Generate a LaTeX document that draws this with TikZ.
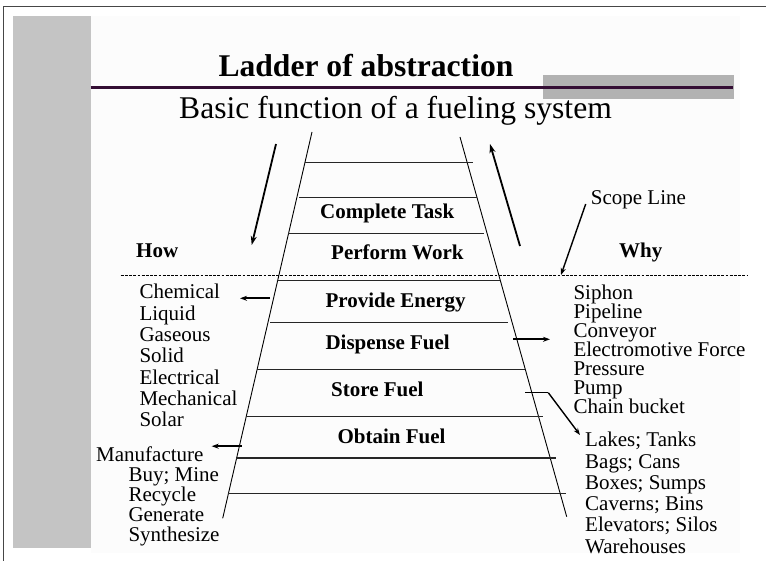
\documentclass[tikz,border=0pt]{standalone}
\usepackage{fontspec}
\setmainfont{Liberation Serif}
\usetikzlibrary{arrows.meta}

\definecolor{sidebar}{RGB}{196,196,196}
\definecolor{panel}{RGB}{252,252,252}
\definecolor{accent}{RGB}{178,178,178}
\definecolor{rulecol}{RGB}{52,14,52}
\definecolor{framecol}{RGB}{70,70,70}

\begin{document}
\begin{tikzpicture}[x=1pt,y=-1pt,
  listtext/.style={inner sep=0pt, anchor=base west, font=\fontsize{21}{25}\selectfont},
  steptext/.style={inner sep=0pt, anchor=base west, font=\fontsize{21}{25}\selectfont\bfseries},
  titletext/.style={inner sep=0pt, anchor=base west, font=\fontsize{31.6}{36}\selectfont\bfseries},
  subtext/.style={inner sep=0pt, anchor=base west, font=\fontsize{31.6}{36}\selectfont},
  rail/.style={line width=0.9pt},
  rung/.style={line width=1.2pt, black!85},
  bigarrow/.style={line width=1.8pt, -{Stealth[length=9pt,width=6pt]}},
  smallarrow/.style={line width=1.6pt, -{Stealth[length=7pt,width=5pt]}},
]
\useasboundingbox (0,0) rectangle (766,561);

% slide background, side bar and frame
\fill[panel] (90.7,15.7) rectangle (740,553);
\fill[sidebar] (12.7,15.7) rectangle (90.7,548.3);
\draw[framecol, line width=1.3pt] (3.5,561) -- (3.5,6.5) -- (766,6.5);

% title block
\fill[accent] (542.7,75) rectangle (734,99);
\draw[rulecol, line width=3.3pt] (90.7,87.3) -- (733.3,87.3);
\node[titletext] (title) at (218.3,76.7) {Ladder of abstraction};
\node[subtext] (subtitle) at (179,118.3) {Basic function of a fueling system};

% ladder rails
\coordinate (railLtop) at (312,132);
\coordinate (railLbot) at (222.7,518.3);
\coordinate (railRtop) at (460,137);
\coordinate (railRbot) at (566.7,516.7);
\draw[rail] (railLtop) -- (railLbot);
\draw[rail] (railRtop) -- (railRbot);

% ladder rungs
\foreach \y/\xa/\xb in {162.3/305/472.7, 197.7/299/477.3, 233.3/288/484,
    280.7/276.7/500, 322.3/270/508.3, 369.3/257.3/525, 416.7/246/543.3,
    458/236/556, 493.3/228.3/566}
  \draw[rung] (\xa,\y) -- (\xb,\y);

% rung labels
\node[steptext] (complete) at (320,219) {Complete Task};
\node[steptext] (perform)  at (331,260) {Perform Work};
\node[steptext] (provide)  at (325.3,307.7) {Provide Energy};
\node[steptext] (dispense) at (325.3,350) {Dispense Fuel};
\node[steptext] (store)    at (331,396.7) {Store Fuel};
\node[steptext] (obtain)   at (337.3,443.3) {Obtain Fuel};

% scope line
\coordinate (scopeL) at (120.7,275);
\coordinate (scopeR) at (748.3,275);
\coordinate (scopeHit) at (561,275);
\draw[line width=0.9pt, dash pattern=on 2.8pt off 1.4pt] (scopeL) -- (scopeR);
\node[listtext] (scopelabel) at (590.7,205) {Scope Line};
\coordinate (scopeFrom) at (585.7,204);
\draw[smallarrow, line width=1.4pt] (scopeFrom) -- (scopeHit);

% how / why directions
\node[steptext] (how) at (136,258) {How};
\node[steptext] (why) at (619,258) {Why};
\coordinate (howFrom) at (276,144);
\coordinate (howTo) at (251.7,245);
\draw[bigarrow] (howFrom) -- (howTo);
\coordinate (whyFrom) at (520,246);
\coordinate (whyTo) at (490,144);
\draw[bigarrow] (whyFrom) -- (whyTo);

% energy forms
\foreach \t [count=\i] in {Chemical, Liquid, Gaseous, Solid, Electrical, Mechanical, Solar}
  \node[listtext] (energy\i) at (139.3,{299+21.3*(\i-1)}) {\t};
\coordinate (energyFrom) at (270,298.3);
\coordinate (energyTo) at (240,298.3);
\draw[smallarrow] (energyFrom) -- (energyTo);

% ways of obtaining fuel
\node[listtext] (obtain1) at (96,461) {Manufacture};
\foreach \t [count=\i] in {{Buy; Mine}, Recycle, Generate, Synthesize}
  \node[listtext] (obtainway\i) at (128.3,{481+20.2*(\i-1)}) {\t};
\coordinate (obtainFrom) at (241.7,446.2);
\coordinate (obtainTo) at (211.7,446.2);
\draw[smallarrow] (obtainFrom) -- (obtainTo);

% ways of dispensing fuel
\foreach \t [count=\i] in {Siphon, Pipeline, Conveyor, Electromotive Force, Pressure, Pump, Chain bucket}
  \node[listtext] (dispway\i) at (573.3,{300+18.9*(\i-1)}) {\t};
\coordinate (dispFrom) at (513.3,339.3);
\coordinate (dispTo) at (550,339.3);
\draw[smallarrow] (dispFrom) -- (dispTo);

% ways of storing fuel
\foreach \t [count=\i] in {{Lakes; Tanks}, {Bags; Cans}, {Boxes; Sumps}, {Caverns; Bins}, {Elevators; Silos}, Warehouses}
  \node[listtext] (storeway\i) at (585,{446.7+21.3*(\i-1)}) {\t};
\coordinate (storeFrom) at (525,392.7);
\coordinate (storeBend) at (548.3,392.7);
\coordinate (storeTo) at (580,435);
\draw[line width=1pt] (storeFrom) -- (storeBend);
\draw[smallarrow, line width=1.4pt] (storeBend) -- (storeTo);
\end{tikzpicture}
\end{document}
